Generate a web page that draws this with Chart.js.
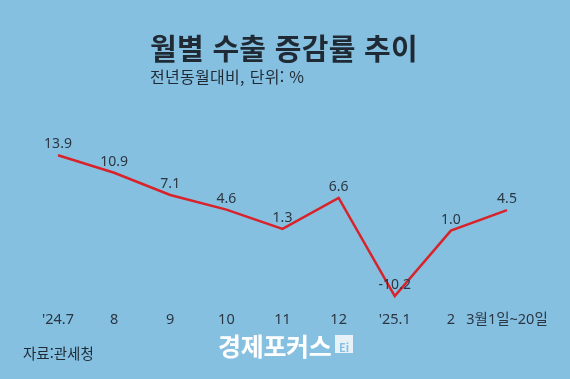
<!DOCTYPE html>
<html lang="ko">
<head>
<meta charset="utf-8">
<script src="https://cdn.jsdelivr.net/npm/chart.js@4.4.1/dist/chart.umd.min.js"></script>
<style>
  html, body { margin: 0; padding: 0; }
  body { width: 570px; height: 379px; background: #86c0e0; overflow: hidden; font-family: "Noto Sans CJK KR", sans-serif; }
  #wrap { position: relative; width: 570px; height: 379px; }
  canvas { position: absolute; left: 0; top: 0; }
  .txt { position: absolute; line-height: 1; white-space: nowrap; color: #1f2a34; }
  #title { left: 150px; top: 33px; font-size: 29px; font-weight: 700; letter-spacing: 0.3px; }
  #subtitle { left: 150px; top: 68px; font-size: 16px; letter-spacing: 0.3px; }
  #source { left: 23px; top: 346px; font-size: 14.5px; }
  #logo { left: 218px; top: 333px; font-size: 25px; font-weight: 700; color: #fff; letter-spacing: -0.3px; }
  #logo span { position: absolute; left: 117px; top: 2px; width: 18px; height: 18px; background: #e6f1f8; color: #86c0e0; font-size: 11px; line-height: 24px; text-align: center; letter-spacing: 0; }
</style>
</head>
<body>
<div id="wrap">
  <canvas id="lineChart" width="570" height="379"></canvas>
  <div class="txt" id="title">월별 수출 증감률 추이</div>
  <div class="txt" id="subtitle">전년동월대비, 단위: %</div>
  <div class="txt" id="source">자료:관세청</div>
  <div class="txt" id="logo">경제포커스<span>Ei</span></div>
</div>
<script>
const months = ["'24.7", "8", "9", "10", "11", "12", "'25.1", "2", "3월1일~20일"];
const growth = [13.9, 10.9, 7.1, 4.6, 1.3, 6.6, -10.2, 1.0, 4.5];

// draws the value above each point
const valueLabels = {
  id: "valueLabels",
  afterDatasetsDraw(chart) {
    const ctx = chart.ctx;
    const meta = chart.getDatasetMeta(0);
    ctx.save();
    ctx.font = "14px 'Noto Sans', 'Noto Sans CJK KR'";
    ctx.fillStyle = "#2a3642";
    ctx.textAlign = "center";
    ctx.textBaseline = "middle";
    meta.data.forEach(function (pt, i) {
      ctx.fillText(growth[i].toFixed(1), pt.x, pt.y - 11);
    });
    ctx.restore();
  }
};

document.addEventListener("DOMContentLoaded", function () {
  const ctx = document.getElementById("lineChart").getContext("2d");
  new Chart(ctx, {
    type: "line",
    data: {
      labels: months,
      datasets: [
        {
          data: growth,
          borderColor: "#d8232a",
          borderWidth: 2.5,
          pointRadius: 0,
          tension: 0,
          fill: false,
        },
      ],
    },
    options: {
      responsive: false,
      animation: false,
      layout: { padding: { top: 143, bottom: 45, left: 58, right: 63 } },
      plugins: { legend: { display: false }, tooltip: { enabled: false } },
      scales: {
        x: {
          type: "category",
          offset: false,
          grid: { display: false, drawTicks: false },
          border: { display: false },
          ticks: {
            autoSkip: false,
            maxRotation: 0,
            minRotation: 0,
            padding: 5,
            color: "#2a3642",
            font: { family: "'Noto Sans', 'Noto Sans CJK KR'", size: 14.5 },
          },
        },
        y: { display: false, min: -12, max: 16 },
      },
    },
    plugins: [valueLabels],
  });
});
</script>
</body>
</html>
